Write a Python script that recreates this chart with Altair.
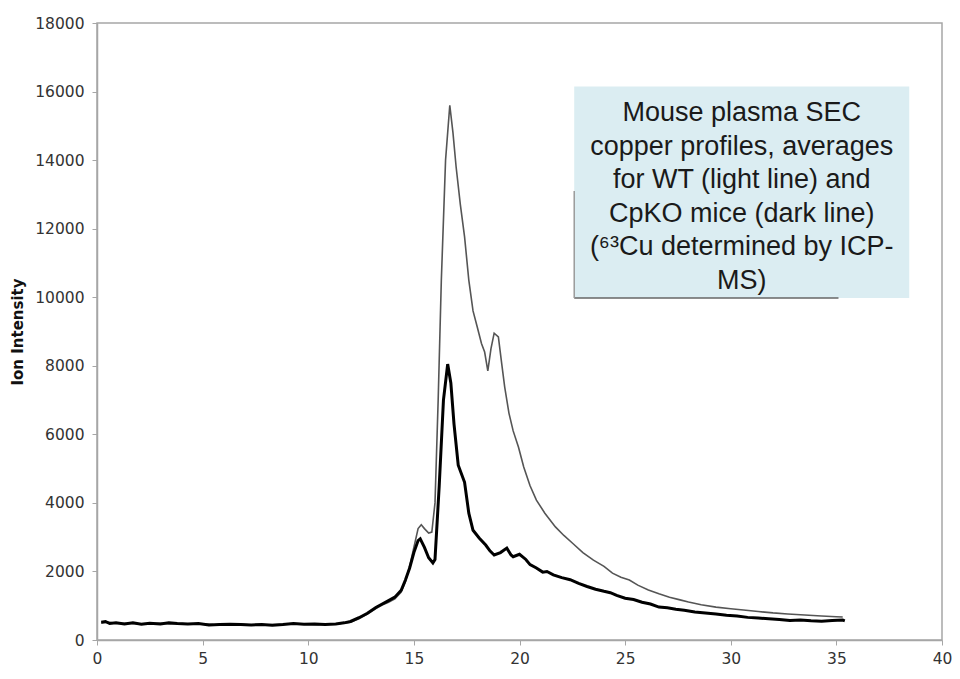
import altair as alt
import pandas as pd

# CpKO mice (dark line)
cpko_x = [0.2, 0.4, 0.6, 0.9, 1.3, 1.7, 2.1, 2.5, 3.0, 3.4, 3.8, 4.3, 4.8, 5.3, 5.8, 6.3, 6.8, 7.3, 7.8, 8.3,
          8.8, 9.3, 9.8, 10.3, 10.8, 11.3, 11.7, 12.0, 12.4, 12.8, 13.2, 13.5, 13.8, 14.1, 14.4, 14.6, 14.8,
          15.0, 15.2, 15.3, 15.5, 15.7, 15.9, 16.0, 16.2, 16.4, 16.6, 16.75, 16.9, 17.1, 17.4, 17.6, 17.8,
          18.1, 18.4, 18.6, 18.8, 19.1, 19.4, 19.6, 19.7, 20.0, 20.3, 20.5, 20.8, 21.1, 21.3, 21.6, 22.0,
          22.4, 22.8, 23.2, 23.6, 24.0, 24.3, 24.6, 25.0, 25.4, 25.8, 26.2, 26.6, 27.0, 27.4, 27.8, 28.3,
          28.8, 29.3, 29.8, 30.3, 30.8, 31.3, 31.8, 32.3, 32.8, 33.3, 33.8, 34.3, 34.8, 35.3, 35.4]
cpko_y = [520, 540, 480, 500, 470, 500, 460, 490, 470, 500, 480, 470, 480, 440, 450, 460, 450, 440, 450, 430,
          450, 480, 460, 470, 450, 470, 500, 540, 650, 780, 950, 1050, 1150, 1250, 1450, 1750, 2100,
          2550, 2900, 2950, 2700, 2400, 2250, 2350, 4500, 7000, 8050, 7500, 6300, 5100, 4600, 3700, 3200,
          2970, 2770, 2600, 2480, 2550, 2680, 2480, 2430, 2500, 2350, 2200, 2100, 1980, 2000, 1900, 1820,
          1760, 1650, 1560, 1480, 1420, 1380, 1300, 1220, 1180, 1100, 1050, 960, 940, 900, 870, 820,
          790, 760, 720, 700, 660, 640, 620, 600, 570, 580, 560, 550, 570, 580, 560]

# WT mice (light line)
wt_x = [0.2, 0.5, 1.0, 1.5, 2.0, 2.5, 3.0, 3.5, 4.0, 4.5, 5.0, 5.5, 6.0, 6.5, 7.0, 7.5, 8.0, 8.5, 9.0, 9.5,
        10.0, 10.5, 11.0, 11.5, 12.0, 12.4, 12.8, 13.2, 13.5, 13.8, 14.1, 14.4, 14.6, 14.8, 15.0, 15.2,
        15.35, 15.5, 15.7, 15.85, 16.0, 16.15, 16.3, 16.5, 16.7, 16.85, 17.0, 17.2, 17.4, 17.6, 17.8, 18.0,
        18.2, 18.35, 18.5, 18.65, 18.8, 19.0, 19.15, 19.3, 19.5, 19.7, 19.95, 20.2, 20.5, 20.8, 21.2, 21.7,
        22.1, 22.5, 23.0, 23.5, 24.0, 24.4, 24.8, 25.2, 25.6, 26.1, 26.6, 27.1, 27.6, 28.0, 28.6, 29.3,
        30.0, 30.6, 31.3, 32.0, 32.7, 33.5, 34.3, 35.0, 35.3]
wt_y = [500, 520, 480, 490, 470, 480, 490, 470, 480, 460, 470, 450, 440, 460, 450, 430, 440, 450, 460, 470,
        470, 450, 460, 480, 520, 620, 760, 920, 1020, 1100, 1200, 1400, 1700, 2150, 2700, 3250,
        3360, 3250, 3120, 3150, 4000, 7000, 10500, 14000, 15600, 14800, 13800, 12700, 11760, 10500, 9600, 9130,
        8650, 8400, 7850, 8500, 8950, 8840, 8100, 7380, 6620, 6100, 5630, 5050, 4500, 4080, 3700, 3300,
        3050, 2830, 2550, 2330, 2150, 1950, 1830, 1750, 1600, 1460, 1350, 1250, 1170, 1110, 1030, 960,
        910, 875, 830, 790, 760, 730, 700, 680, 670]

x_ticks = [0, 5, 10, 15, 20, 25, 30, 35, 40]
y_ticks = [0, 2000, 4000, 6000, 8000, 10000, 12000, 14000, 16000, 18000]

note_lines = ["Mouse plasma SEC", "copper profiles, averages", "for WT (light line) and",
              "CpKO mice (dark line)", "(\u2076\u00b3Cu determined by ICP-", "MS)"]

cpko = pd.DataFrame({"x": cpko_x, "y": cpko_y})
wt = pd.DataFrame({"x": wt_x, "y": wt_y})

AX = "#a6a6a6"
xs = alt.Scale(domain=[0, 40], nice=False)
ys = alt.Scale(domain=[0, 18000], nice=False)

x_axis = alt.Axis(values=x_ticks, grid=False, domainColor=AX, domainWidth=1.5, tickColor=AX,
                  tickSize=5, labelFont="DejaVu Sans", labelFontSize=15.5, labelColor="#333333",
                  labelPadding=6, title=None, labelFlush=False)
y_axis = alt.Axis(values=y_ticks, grid=False, domainColor=AX, domainWidth=1.5, tickColor=AX,
                  tickSize=5, labelFont="DejaVu Sans", labelFontSize=15.5, labelColor="#333333",
                  labelPadding=8, title="Ion Intensity", titleFont="DejaVu Sans", titleFontSize=15,
                  titleFontWeight="bold", titleColor="#111111", titlePadding=9, format="d")

wt_line = alt.Chart(wt).mark_line(color="#555555", strokeWidth=1.6).encode(
    x=alt.X("x:Q", scale=xs, axis=x_axis),
    y=alt.Y("y:Q", scale=ys, axis=y_axis),
)
cpko_line = alt.Chart(cpko).mark_line(color="#000000", strokeWidth=3).encode(
    x=alt.X("x:Q", scale=xs),
    y=alt.Y("y:Q", scale=ys),
)

box_df = pd.DataFrame({"x": [22.59], "x2": [38.45], "y": [9980], "y2": [16150]})
box = alt.Chart(box_df).mark_rect(color="#dbedf2").encode(
    x=alt.X("x:Q", scale=xs), x2="x2:Q", y=alt.Y("y:Q", scale=ys), y2="y2:Q")

edge_df = pd.DataFrame({"x": [22.59], "x2": [35.1], "y": [9980]})
edge = alt.Chart(edge_df).mark_rule(color="#666666", strokeWidth=1.5).encode(
    x=alt.X("x:Q", scale=xs), x2="x2:Q", y=alt.Y("y:Q", scale=ys))
ledge_df = pd.DataFrame({"x": [22.59], "y": [9980], "y2": [13100]})
ledge = alt.Chart(ledge_df).mark_rule(color="#9a9a9a", strokeWidth=1.5).encode(
    x=alt.X("x:Q", scale=xs), y=alt.Y("y:Q", scale=ys), y2="y2:Q")

txt_df = pd.DataFrame({"x": [30.52], "y": [15373]})
txt = alt.Chart(txt_df).mark_text(text=note_lines, font="Liberation Sans", fontSize=27,
                                  lineHeight=33.5, align="center", baseline="middle",
                                  color="#1a1a1a").encode(
    x=alt.X("x:Q", scale=xs), y=alt.Y("y:Q", scale=ys))

chart = alt.layer(box, edge, ledge, txt, wt_line, cpko_line).properties(
    width=845, height=617,
    autosize=alt.AutoSizeParams(type="none"),
    padding={"left": 89, "top": 15, "right": 10, "bottom": 30},
    background="white",
).configure_view(stroke=AX, strokeWidth=1.5)

chart.save("out.html", embed_options={"renderer": "svg", "actions": False})
